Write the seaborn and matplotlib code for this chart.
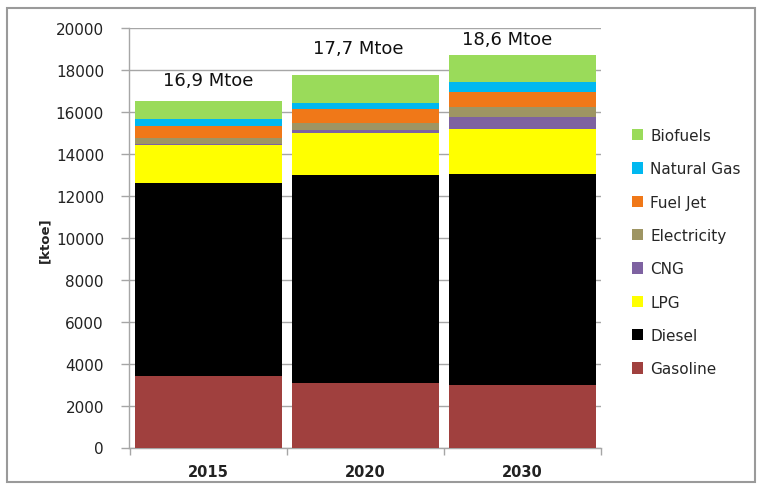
import matplotlib
matplotlib.use("Agg")
import matplotlib.pyplot as plt
import seaborn as sns
import numpy as np
import pandas as pd
from matplotlib.patches import Patch, Rectangle

years = ["2015", "2020", "2030"]
gasoline = [3430, 3070, 2990]
diesel = [9170, 9920, 10060]
lpg = [1820, 2020, 2150]
cng = [60, 130, 545]
electricity = [270, 320, 510]
fuel_jet = [590, 670, 720]
natural_gas = [320, 300, 460]
biofuels = [850, 1330, 1290]
total_labels = ["16,9 Mtoe", "17,7 Mtoe", "18,6 Mtoe"]

series_names = ["Gasoline", "Diesel", "LPG", "CNG", "Electricity",
                "Fuel Jet", "Natural Gas", "Biofuels"]
series_vals = [gasoline, diesel, lpg, cng, electricity, fuel_jet,
               natural_gas, biofuels]
colors = ["#A0403E", "#000000", "#FFFF00", "#7E62A1", "#9E9563",
          "#F07818", "#00B8F0", "#9ADB5A"]

sns.set_theme(style="white")
plt.rcParams["font.family"] = ["DejaVu Sans"]

W, H = 757, 489
fig = plt.figure(figsize=(W / 100, H / 100), dpi=100)
ax = fig.add_axes([129 / W, 1 - 448.5 / H, (601 - 129) / W, (448.5 - 29.3) / H])

df = pd.DataFrame({"year": years})
cum = np.zeros(len(years))
cums = []
for vals in series_vals:
    cum = cum + np.array(vals)
    cums.append(cum.copy())

# draw from the top layer down so each lower layer overlays the upper cumulative bar
for name, c, color in reversed(list(zip(series_names, cums, colors))):
    d = df.copy()
    d["value"] = c
    sns.barplot(data=d, x="year", y="value", color=color, width=0.94,
                saturation=1, ax=ax, linewidth=0, zorder=3, errorbar=None)

ax.set_ylim(0, 20000)
ax.set_xlim(-0.506, 2.5)
ax.set_yticks(np.arange(0, 20001, 2000))
ax.set_yticklabels([str(v) for v in range(0, 20001, 2000)], fontsize=11, color="#222222")
ax.yaxis.grid(True, color="#A6A6A6", linewidth=1, zorder=0)
ax.set_axisbelow(True)
ax.set_xlabel("")
ax.set_ylabel("")
ax.set_xticks([0, 1, 2])
ax.set_xticklabels(years, fontsize=10.5, fontweight="bold", color="#222222")
ax.tick_params(axis="x", length=0, pad=12)
ax.tick_params(axis="y", length=6, width=1, color="#A6A6A6", pad=12, direction="out", left=True)
# category boundary ticks on x axis
ax.set_xticks([-0.5, 0.5, 1.5, 2.5], minor=True)
ax.tick_params(axis="x", which="minor", length=5, width=1, color="#A6A6A6", direction="out", bottom=True)
for s in ["top", "right"]:
    ax.spines[s].set_visible(False)
for s in ["left", "bottom"]:
    ax.spines[s].set_color("#A6A6A6")
    ax.spines[s].set_linewidth(1)

offsets = [0.0, -0.045, -0.1]
label_y = [17530, 19070, 19500]
for i, (lab, off, ly) in enumerate(zip(total_labels, offsets, label_y)):
    ax.text(i + off, ly, lab, ha="center", va="center", fontsize=13, color="#111111", zorder=5)

fig.text(45 / W, 1 - 240 / H, "[ktoe]", rotation=90, ha="center", va="center",
         fontsize=9.5, fontweight="bold", color="#222222")

handles = [Patch(facecolor=c, edgecolor="none", label=n)
           for n, c in reversed(list(zip(series_names, colors)))]
fig.legend(handles=handles, loc="upper left", bbox_to_anchor=(632 / W, 1 - 129 / H),
           frameon=False, fontsize=11, handlelength=0.75, handleheight=0.75,
           handletextpad=0.45, labelspacing=1.2, borderaxespad=0, borderpad=0)

# outer chart frame
fig.patches.append(Rectangle((7 / W, 1 - 483 / H), (755 - 7) / W, (483 - 9) / H,
                             transform=fig.transFigure, fill=False,
                             edgecolor="#9A9A9A", linewidth=1.5, zorder=10))

fig.savefig("out.png", dpi=100)
